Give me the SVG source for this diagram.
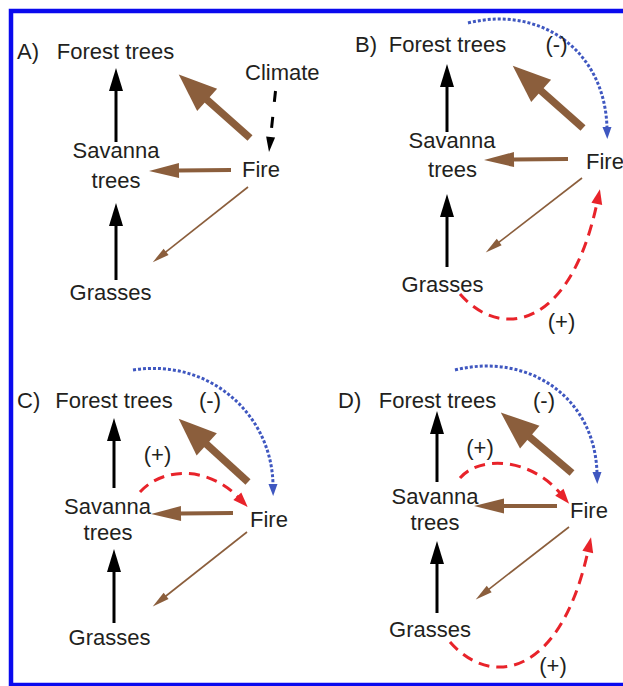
<svg xmlns="http://www.w3.org/2000/svg" width="623" height="686" viewBox="0 0 623 686">
<defs>
<style>
text{font-family:"Liberation Sans",Arial,sans-serif;font-size:22px;fill:#231f20}
.m{text-anchor:middle}
.blk{stroke:#000;stroke-width:3;fill:none}
.thick{stroke:#8b5e3c;stroke-width:7.5;fill:none}
.med{stroke:#8b5e3c;stroke-width:4;fill:none}
.thin{stroke:#8b5e3c;stroke-width:1.6;fill:none}
.blue{stroke:#3f57c0;stroke-width:3;stroke-dasharray:3 2;fill:none}
.red{stroke:#e8232a;stroke-width:3;stroke-dasharray:11 7;fill:none}
.clim{stroke:#000;stroke-width:3;stroke-dasharray:11 15;fill:none}
</style>
<marker id="hBlk" markerUnits="userSpaceOnUse" markerWidth="24" markerHeight="16" refX="1" refY="7" orient="auto" overflow="visible"><path d="M0,0 L23,7 L0,14 Z" fill="#000"/></marker>
<marker id="hThick" markerUnits="userSpaceOnUse" markerWidth="40" markerHeight="32" refX="1" refY="15" orient="auto" overflow="visible"><path d="M0,0 L38,15 L0,30 Z" fill="#8b5e3c"/></marker>
<marker id="hMed" markerUnits="userSpaceOnUse" markerWidth="32" markerHeight="16" refX="1" refY="7.5" orient="auto" overflow="visible"><path d="M0,0 L30,7.5 L0,15 Z" fill="#8b5e3c"/></marker>
<marker id="hThin" markerUnits="userSpaceOnUse" markerWidth="18" markerHeight="9" refX="1" refY="4" orient="auto" overflow="visible"><path d="M0,0 L17,4 L0,8 Z" fill="#8b5e3c"/></marker>
<marker id="hBlue" markerUnits="userSpaceOnUse" markerWidth="13" markerHeight="10" refX="1" refY="4.5" orient="auto" overflow="visible"><path d="M0,0 L12,4.5 L0,9 Z" fill="#3f57c0"/></marker>
<marker id="hRed" markerUnits="userSpaceOnUse" markerWidth="16" markerHeight="12" refX="1" refY="5.5" orient="auto" overflow="visible"><path d="M0,0 L15,5.5 L0,11 Z" fill="#e8232a"/></marker>
<marker id="hClim" markerUnits="userSpaceOnUse" markerWidth="16" markerHeight="10" refX="1" refY="4.5" orient="auto" overflow="visible"><path d="M0,0 L15,4.5 L0,9 Z" fill="#000"/></marker>
</defs>
<rect x="0" y="0" width="623" height="686" fill="#fff"/>
<rect id="frame" x="11" y="11" width="640" height="674" fill="none" stroke="#0a0aee" stroke-width="4.5"/>

<g id="connectors">
<!-- Panel A -->
<path class="blk" d="M116,142 L116,90" marker-end="url(#hBlk)"/>
<path class="blk" d="M116,280 L116,225" marker-end="url(#hBlk)"/>
<path class="thick" d="M250,138 L206.4,99.2" marker-end="url(#hThick)"/>
<path class="med" d="M231,170 L178,170.6" marker-end="url(#hMed)"/>
<path class="thin" d="M248,187 L165.3,252.4" marker-end="url(#hThin)"/>
<path class="clim" d="M275.5,91 L270.5,138" marker-end="url(#hClim)"/>
<!-- Panel B -->
<path class="blk" d="M447,132 L447,86" marker-end="url(#hBlk)"/>
<path class="blk" d="M447,267 L447,216" marker-end="url(#hBlk)"/>
<path class="thick" d="M583,128 L540.4,90.2" marker-end="url(#hThick)"/>
<path class="med" d="M568,159 L513,159.6" marker-end="url(#hMed)"/>
<path class="thin" d="M582,178 L498.4,242.6" marker-end="url(#hThin)"/>
<path class="blue" d="M468,23 C540,5 605,50 607,128" marker-end="url(#hBlue)"/>
<path class="red" d="M460,294 C500,340 570,330 597,203" marker-end="url(#hRed)"/>
<!-- Panel C -->
<path class="blk" d="M114,488 L114,440" marker-end="url(#hBlk)"/>
<path class="blk" d="M114,623 L114,571" marker-end="url(#hBlk)"/>
<path class="thick" d="M248,482 L206,443.7" marker-end="url(#hThick)"/>
<path class="med" d="M233,513 L180,513.6" marker-end="url(#hMed)"/>
<path class="thin" d="M247,532 L165.3,596.5" marker-end="url(#hThin)"/>
<path class="blue" d="M133,370 C210,358 272,415 273,485" marker-end="url(#hBlue)"/>
<path class="red" d="M140,492 C165,465 210,468 238,497" marker-end="url(#hRed)"/>
<!-- Panel D -->
<path class="blk" d="M437,482 L437,433" marker-end="url(#hBlk)"/>
<path class="blk" d="M437,613 L437,563" marker-end="url(#hBlk)"/>
<path class="thick" d="M572,473 L529,436.5" marker-end="url(#hThick)"/>
<path class="med" d="M557,506 L503,506" marker-end="url(#hMed)"/>
<path class="thin" d="M569,527 L488.4,589.6" marker-end="url(#hThin)"/>
<path class="blue" d="M455,370 C528,352 595,397 597,473" marker-end="url(#hBlue)"/>
<path class="red" d="M460,478 C480,455 530,458 560,493" marker-end="url(#hRed)"/>
<path class="red" d="M450,642 C490,688 560,678 588,551" marker-end="url(#hRed)"/>
</g>

<g id="panelA">
<text x="17" y="59">A)</text>
<g id="A-forest"><text class="m" x="115.5" y="59">Forest trees</text></g>
<g id="A-climate"><text x="245" y="80">Climate</text></g>
<g id="A-savanna"><text class="m" x="116" y="158">Savanna</text><text class="m" x="116" y="188">trees</text></g>
<g id="A-fire"><text x="242" y="177">Fire</text></g>
<g id="A-grasses"><text class="m" x="110.5" y="300">Grasses</text></g>
</g>

<g id="panelB">
<text x="355" y="52">B)</text>
<g id="B-forest"><text class="m" x="447.5" y="52">Forest trees</text></g>
<text class="m" x="556.5" y="52">(-)</text>
<g id="B-savanna"><text class="m" x="452" y="148">Savanna</text><text class="m" x="452.5" y="177">trees</text></g>
<g id="B-fire"><text x="586" y="169">Fire</text></g>
<g id="B-grasses"><text class="m" x="442.5" y="292">Grasses</text></g>
<text class="m" x="561.5" y="329">(+)</text>
</g>

<g id="panelC">
<text x="17" y="408">C)</text>
<g id="C-forest"><text class="m" x="114" y="408">Forest trees</text></g>
<text class="m" x="210" y="408">(-)</text>
<text class="m" x="157.5" y="462">(+)</text>
<g id="C-savanna"><text class="m" x="107.5" y="514">Savanna</text><text class="m" x="108" y="540">trees</text></g>
<g id="C-fire"><text x="250" y="527">Fire</text></g>
<g id="C-grasses"><text class="m" x="109.5" y="645">Grasses</text></g>
</g>

<g id="panelD">
<text x="338" y="408">D)</text>
<g id="D-forest"><text class="m" x="437.5" y="408">Forest trees</text></g>
<text class="m" x="544" y="408">(-)</text>
<text class="m" x="480" y="455">(+)</text>
<g id="D-savanna"><text class="m" x="435" y="504">Savanna</text><text class="m" x="435" y="530">trees</text></g>
<g id="D-fire"><text x="570" y="518">Fire</text></g>
<g id="D-grasses"><text class="m" x="430" y="637">Grasses</text></g>
<text class="m" x="553" y="673">(+)</text>
</g>
</svg>
